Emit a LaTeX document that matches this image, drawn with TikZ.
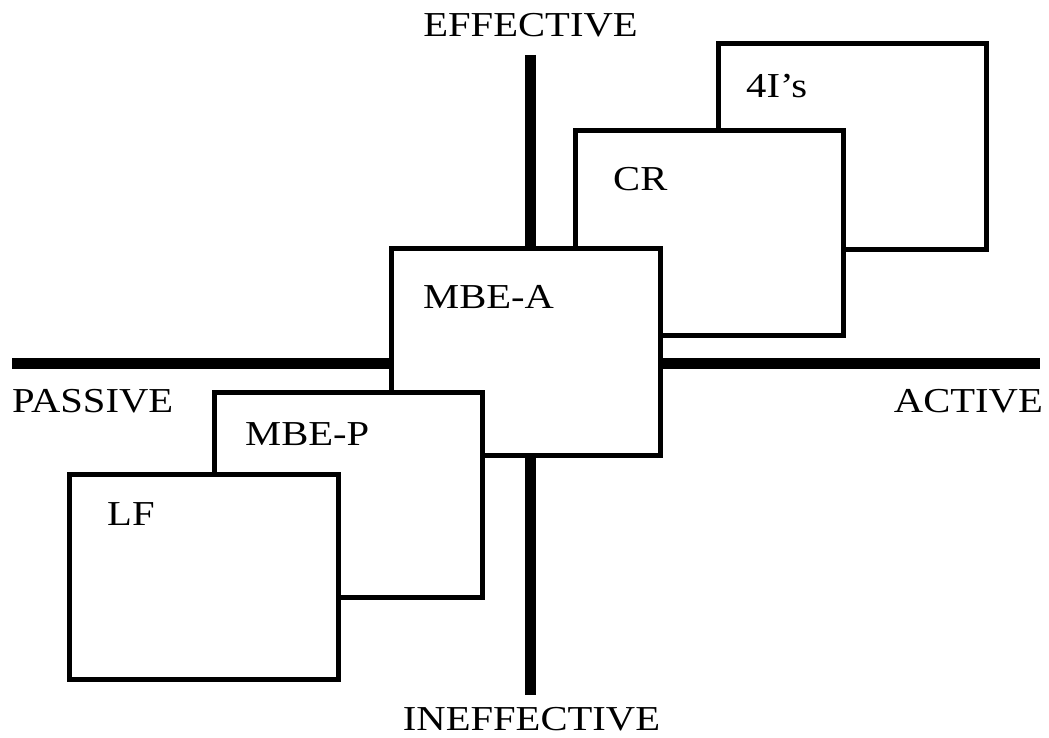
\documentclass[tikz,border=0pt]{standalone}
\usepackage{fontspec}
\setmainfont{Liberation Serif}[FakeStretch=1.16]
\begin{document}
\begin{tikzpicture}[x=1pt,y=-1pt,
  axis/.style={line width=11pt},
  box/.style={draw, line width=5pt, fill=white, inner sep=0pt, outer sep=0pt, anchor=north west, minimum width=268pt, minimum height=206pt},
  lbl/.style={inner sep=0pt, font=\fontsize{35}{40}\selectfont},
  boxlbl/.style={lbl, anchor=base west}]
\useasboundingbox (0,0) rectangle (1049,738);
% axes
\coordinate (vt) at (530,55);
\coordinate (vb) at (530,695);
\coordinate (hl) at (12,363);
\coordinate (hr) at (1040,363);
\draw[axis] (vt) -- (vb);
\draw[axis] (hl) -- (hr);
% axis labels
\node[lbl, anchor=base] (eff) at (530.5,37) {EFFECTIVE};
\node[lbl, anchor=base] (ineff) at (531.5,730) {INEFFECTIVE};
\node[lbl, anchor=base west] (pas) at (12,412) {PASSIVE};
\node[lbl, anchor=base east] (act) at (1043,412) {ACTIVE};
% boxes
\node[box] (b4i) at (718.5,43.5) {};
\node[boxlbl] (t4i) at (746,98) {4I’s};
\node[box, minimum height=205pt] (bcr) at (575.5,130.5) {};
\node[boxlbl] (tcr) at (613,191) {CR};
\node[box, minimum width=269pt, minimum height=207pt] (bmbea) at (391.5,248.5) {};
\node[boxlbl] (tmbea) at (423,308) {MBE-A};
\node[box, minimum height=205pt] (bmbep) at (214.5,392.5) {};
\node[boxlbl] (tmbep) at (245,445) {MBE-P};
\node[box, minimum width=269pt, minimum height=205pt] (blf) at (69.5,474.5) {};
\node[boxlbl] (tlf) at (107,525) {LF};
\end{tikzpicture}
\end{document}
